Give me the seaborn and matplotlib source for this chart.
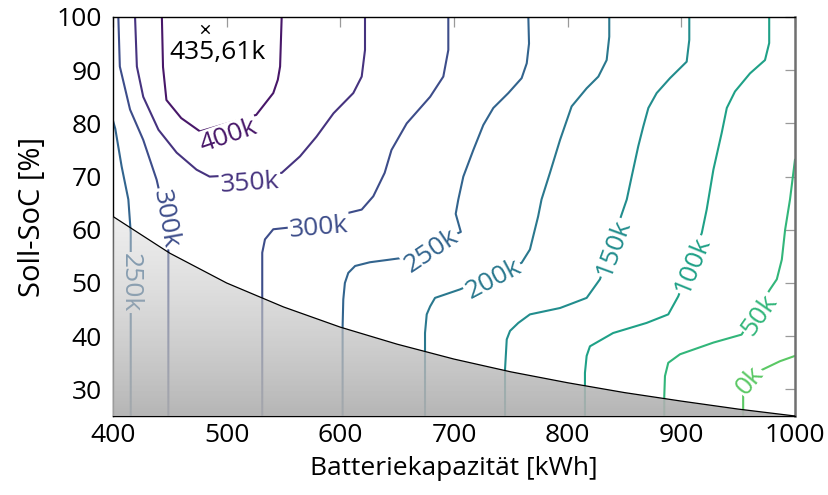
import numpy as np
import matplotlib
matplotlib.use("Agg")
import matplotlib.pyplot as plt
import seaborn as sns
from matplotlib.patches import Polygon

# ---------------- data ----------------
c400_x = [443, 444, 447, 460, 476.5, 526, 541, 545, 547, 548.4]
c400_y = [100, 90.6, 84.4, 81, 78.5, 81.6, 85.7, 88.2, 90.7, 100]

c350_x = [419.4, 421, 426.6, 440, 456, 473.5, 485, 548.4, 564.5, 579, 594, 611.4, 618.8, 621.7, 621.7]
c350_y = [100, 90.7, 85, 78.8, 74.5, 71.3, 70, 70.7, 73.8, 77.5, 81.9, 85.7, 88.8, 93.8, 100]

c300a_x = [404.7, 406, 415, 426.6, 438.4, 440, 448.7, 448.7]
c300a_y = [100, 90.7, 82.6, 76.9, 69.4, 67.9, 56, 25]

c300b_x = [531.3, 531.3, 531.3, 533.7, 541, 554, 618.8, 629, 639, 645, 658.4, 679, 690.6, 695, 695]
c300b_y = [25, 47, 55.7, 58.2, 60.1, 60.4, 63.8, 66.3, 70.7, 75, 80, 85, 88.8, 93.8, 100]

c250a_x = [400, 402, 407.6, 413.5, 415.6, 415.6]
c250a_y = [80.5, 79, 71.9, 65.7, 59.5, 25]

c250b_x = [602, 602, 602.6, 604, 607, 613, 626, 643.7, 654, 706, 701.5, 703.8, 708.2, 717,
           725.8, 734.6, 747.8, 759.5, 764, 766, 765.4]
c250b_y = [25, 41.9, 46.9, 50, 51.9, 53.2, 53.9, 54.4, 54.7, 59.6, 63.0, 65.7, 70, 75,
           79.7, 82.9, 85.7, 88.5, 91.3, 95, 100]

c200_x = [674.5, 674.5, 676, 679, 683.3, 705.3, 759.5, 766.8, 774, 777, 784.4, 793.3,
          803.5, 816.7, 827, 834.3, 836.6, 836.6]
c200_y = [25, 40.6, 44.1, 45.6, 47.2, 48.8, 53.8, 56.3, 62.5, 65.7, 70.7, 76.9,
          83.2, 86.6, 88.8, 91.9, 96.3, 100]

c150_x = [744.9, 744.9, 746.4, 749.3, 756.6, 766.8, 793.3, 802, 816.7, 828.4, 847.5, 852,
          856.3, 862.1, 866.5, 871, 878.3, 890, 904.7, 907, 907]
c150_y = [25, 33.8, 39.4, 41, 42.5, 44.1, 45.3, 46, 47.2, 50.7, 62.9, 65.7,
          70, 75.7, 79.4, 82.9, 85.7, 88.5, 91.6, 95.7, 100]

c100_x = [815.2, 815.2, 816.7, 819.6, 840, 869.5, 888.5, 897.3, 918, 922.3, 928.2, 935.5,
          940, 947.2, 960.4, 973.6, 977.3, 977.3]
c100_y = [25, 33.1, 36.3, 38.1, 40.6, 42.5, 44.1, 47.5, 59.4, 63.8, 71.3, 78.2,
          82.9, 86, 89.4, 91.9, 95.1, 100]

c50_x = [885, 885, 885.6, 888.5, 898.8, 928.2, 953, 978, 984, 988.4, 991.3, 995.6, 1000]
c50_y = [25, 28.8, 32.5, 35, 36.6, 38.8, 40.3, 48.8, 50.7, 54.4, 60, 65.7, 73.2]

c0_x = [954.4, 954.4, 954.4, 969.2, 986.8, 1000]
c0_y = [25, 26.3, 29.5, 33.5, 35.3, 36.3]

line_levels = [400, 350, 300, 300, 250, 250, 200, 150, 100, 50, 0]
line_xs = [c400_x, c350_x, c300a_x, c300b_x, c250a_x, c250b_x, c200_x, c150_x, c100_x, c50_x, c0_x]
line_ys = [c400_y, c350_y, c300a_y, c300b_y, c250a_y, c250b_y, c200_y, c150_y, c100_y, c50_y, c0_y]

lab_text = ["400k", "350k", "300k", "300k", "250k", "250k", "200k", "150k", "100k", "50k", "0k"]
lab_x = [501.5, 520.5, 445.7, 581, 415.6, 680.6, 735, 840.7, 910.3, 969.2, 960]
lab_y = [77.6, 68.8, 62.1, 60.4, 50.1, 56.0, 50.6, 56.5, 53.3, 44.0, 31.7]
lab_rot = [19, 4, -80, 5, -90, 34, 28, 70, 68, 55, 50]

# feasibility limit (boundary of the shaded area)
lim_x = [400, 450, 500, 550, 600, 650, 700, 750, 800, 850, 900, 950, 1000]
lim_y = [62.5, 55.6, 50.0, 45.5, 41.7, 38.5, 35.7, 33.3, 31.25, 29.4, 27.8, 26.3, 25.0]

max_x, max_y, max_label = 481, 97.7, "435,61k"

x_ticks = [400, 500, 600, 700, 800, 900, 1000]
y_ticks = [30, 40, 50, 60, 70, 80, 90, 100]

# ---------------- styling ----------------
sns.set_theme(style="white")
plt.rcParams["font.family"] = ["Open Sans", "DejaVu Sans"]
plt.rcParams["text.color"] = "black"
plt.rcParams["axes.labelcolor"] = "black"
FS = 19

fig = plt.figure(figsize=(8.29, 4.95), dpi=100)
ax = fig.add_axes([113 / 829, 1 - 416 / 495, (795 - 113) / 829, (416 - 17) / 495])

cmap = plt.get_cmap("viridis")
zmax, zmin = 435.61, -150.0


def col(z):
    return cmap((zmax - z) / (zmax - zmin))


for lev, xs, ys in zip(line_levels, line_xs, line_ys):
    sns.lineplot(x=xs, y=ys, sort=False, estimator=None, color=col(lev), lw=1.5,
                 ax=ax, zorder=2)

for t, x, y, r in zip(lab_text, lab_x, lab_y, lab_rot):
    lev = float(t[:-1])
    ax.text(x, y, t, rotation=r, rotation_mode="anchor", ha="center", va="center",
            color=col(lev), fontsize=FS, zorder=3,
            bbox=dict(boxstyle="square,pad=0.05", fc="white", ec="none"))

# shaded infeasible area with vertical gradient overlay
poly_pts = list(zip(lim_x, lim_y)) + [(1000, 25), (400, 25)]
poly = Polygon(poly_pts, closed=True, fc="none", ec="none", transform=ax.transData)
ax.add_patch(poly)
n = 256
t = np.linspace(0, 1, n)[:, None]
rgba = np.zeros((n, 1, 4))
grey = (215 - 40 * t)[:, 0] / 255.0
rgba[:, 0, 0] = grey
rgba[:, 0, 1] = grey
rgba[:, 0, 2] = grey
rgba[:, 0, 3] = (0.42 + 0.5 * t)[:, 0]
im = ax.imshow(rgba, extent=[400, 1000, 25, 62.5], origin="upper", aspect="auto",
               interpolation="bilinear", zorder=4)
im.set_clip_path(poly)
sns.lineplot(x=lim_x, y=lim_y, sort=False, estimator=None, color="black", lw=0.9,
             ax=ax, zorder=5)

ax.scatter([max_x], [max_y], marker="x", color="black", s=36, lw=1.0, zorder=6)
ax.text(max_x + 11, max_y - 4.3, max_label, ha="center", va="center", fontsize=FS,
        color="black", zorder=6)

ax.set_xlim(400, 1000)
ax.set_ylim(25, 100)
ax.set_xticks(x_ticks)
ax.set_xticklabels([str(v) for v in x_ticks])
ax.set_yticks(y_ticks)
ax.set_yticklabels([str(v) for v in y_ticks])
ax.tick_params(axis="both", direction="in", length=7.5, width=0.9, color="#9a9a9a",
               labelsize=FS, top=True, right=True, labelcolor="black")
ax.tick_params(axis="x", pad=5)
ax.tick_params(axis="y", pad=8)
ax.set_xlabel("Batteriekapazität [kWh]", fontsize=FS, labelpad=6, color="black")
ax.set_ylabel("Soll-SoC [%]", fontsize=21, labelpad=7, color="black")
for s in ["left", "bottom", "top"]:
    ax.spines[s].set_color("black")
    ax.spines[s].set_linewidth(1.0)
ax.spines["right"].set_color("#707070")
ax.spines["right"].set_linewidth(1.8)
ax.grid(False)

fig.savefig("out.png", dpi=100)
